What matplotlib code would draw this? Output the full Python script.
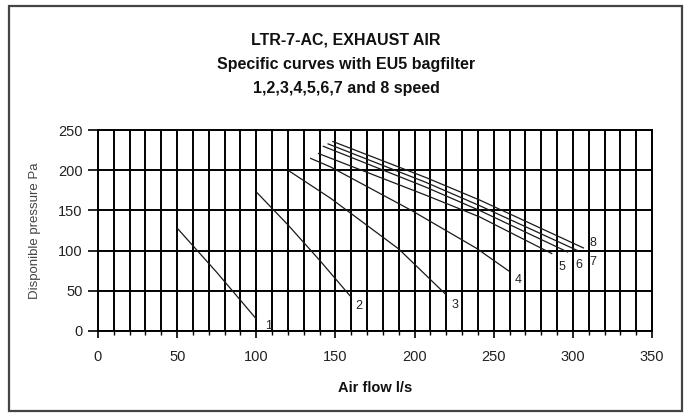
import numpy as np
import matplotlib.pyplot as plt
from matplotlib.patches import Rectangle
from matplotlib.ticker import MultipleLocator

plt.rcParams['font.family'] = ['Liberation Sans', 'DejaVu Sans']

# ---- data (air flow l/s, pressure Pa) ----
speed_labels = ['1', '2', '3', '4', '5', '6', '7', '8']

flow_1 = [50, 75, 100]
pres_1 = [128, 73, 15]

flow_2 = [100, 120, 140, 160]
pres_2 = [173, 132, 88, 42]

flow_3 = [120, 147, 190, 220]
pres_3 = [200, 165, 102, 45]

flow_4 = [134, 147, 198, 239, 260]
pres_4 = [215, 204, 150, 103, 74]

flow_5 = [139, 207, 241, 287]
pres_5 = [221, 169, 142, 96]

flow_6 = [142, 207, 241, 297]
pres_6 = [230, 179, 150, 98]

flow_7 = [145, 207, 241, 303]
pres_7 = [233, 185, 156, 100]

flow_8 = [148, 207, 241, 307]
pres_8 = [236, 191, 163, 103]

flows = [flow_1, flow_2, flow_3, flow_4, flow_5, flow_6, flow_7, flow_8]
pressures = [pres_1, pres_2, pres_3, pres_4, pres_5, pres_6, pres_7, pres_8]

# label offsets in pixels from the last point of each curve
label_offsets = [(12, -7), (8, -9), (9, -10), (9, -8), (10, -13), (11, -13), (15, -11), (9, 5)]

fig = plt.figure(figsize=(6.88, 4.17), dpi=100)
ax = fig.add_axes([98 / 688, 1 - 331 / 417, (652 - 98) / 688, (331 - 130) / 417])

for f, p, lab, off in zip(flows, pressures, speed_labels, label_offsets):
    ax.plot(f, p, color='#1a1a1a', lw=0.9, solid_capstyle='butt', zorder=3)
    ax.annotate(lab, (f[-1], p[-1]), xytext=off, textcoords='offset pixels',
                ha='center', va='center', fontsize=9, color='#222222')

ax.set_xlim(0, 350)
ax.set_ylim(0, 250)
ax.xaxis.set_major_locator(MultipleLocator(50))
ax.xaxis.set_minor_locator(MultipleLocator(10))
ax.yaxis.set_major_locator(MultipleLocator(50))

ax.grid(which='major', axis='y', color='black', lw=1.4)
ax.grid(which='both', axis='x', color='black', lw=1.4)
ax.set_axisbelow(True)

for s in ax.spines.values():
    s.set_color('black')
    s.set_linewidth(1.4)

ax.tick_params(axis='x', which='major', direction='out', length=5, width=1.2, pad=9,
               labelsize=10.5, colors='black')
ax.tick_params(axis='x', which='minor', direction='out', length=3, width=1.0)
ax.tick_params(axis='y', which='major', direction='out', length=7, width=1.2, pad=4,
               labelsize=10.5, colors='black')
for lbl in ax.get_xticklabels() + ax.get_yticklabels():
    lbl.set_color('#222222')

ax.set_xlabel('Air flow l/s', fontsize=10.5, fontweight='bold', labelpad=12, color='#111111')
ax.set_ylabel('Disponible pressure Pa', fontsize=9.5, color='#444444', labelpad=12)

fig.text(0.503, 1 - 40 / 417, 'LTR-7-AC, EXHAUST AIR', ha='center', va='center',
         fontsize=11.5, fontweight='bold', color='#111111')
fig.text(0.503, 1 - 64 / 417, 'Specific curves with EU5 bagfilter', ha='center', va='center',
         fontsize=11.5, fontweight='bold', color='#111111')
fig.text(0.503, 1 - 88 / 417, '1,2,3,4,5,6,7 and 8 speed', ha='center', va='center',
         fontsize=11.5, fontweight='bold', color='#111111')

# outer chart border
fig.patches.append(Rectangle((9 / 688, 1 - 411 / 417), (682 - 9) / 688, (411 - 6) / 417,
                             transform=fig.transFigure, fill=False,
                             edgecolor='#444444', lw=1.6))

fig.savefig('out.png', dpi=100)
